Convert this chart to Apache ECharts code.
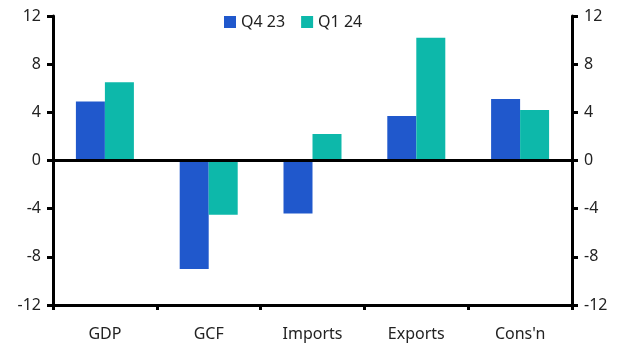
<!DOCTYPE html>
<html>
<head>
<meta charset="utf-8">
<script src="https://cdn.jsdelivr.net/npm/echarts@6/dist/echarts.min.js"></script>
<style>
  html, body { margin: 0; padding: 0; background: #fff; }
  #chart { width: 633px; height: 352px; }
</style>
</head>
<body>
<div id="chart"></div>
<script>
// data
const categories = ['GDP', 'GCF', 'Imports', 'Exports', "Cons'n"];
const q4_23 = [4.9, -9.0, -4.4, 3.7, 5.1];
const q1_24 = [6.5, -4.5, 2.2, 10.2, 4.2];
const seriesNames = ['Q4 23', 'Q1 24'];

const font = '"Noto Sans", sans-serif';

function valueAxis(pos) {
  return {
    type: 'value',
    position: pos,
    min: -12,
    max: 12,
    interval: 4,
    axisLine: { show: true, lineStyle: { color: '#000', width: 3 } },
    axisTick: { show: true, inside: false, length: 6, lineStyle: { color: '#000', width: 3 } },
    axisLabel: { color: '#222', fontSize: 16, fontFamily: font, margin: 12 },
    splitLine: { show: false }
  };
}

const chart = echarts.init(document.getElementById('chart'));
chart.setOption({
  animation: false,
  textStyle: { fontFamily: font },
  legend: {
    top: 9,
    left: 219,
    itemWidth: 12,
    itemHeight: 12,
    itemGap: 16,
    icon: 'rect',
    textStyle: { fontSize: 16, color: '#222', fontFamily: font },
    data: seriesNames
  },
  grid: { left: 53, right: 61, top: 16, bottom: 47 },
  xAxis: {
    type: 'category',
    data: categories,
    axisLine: { onZero: false, lineStyle: { color: '#000', width: 3 } },
    axisTick: { show: true, length: 5, lineStyle: { color: '#000', width: 3 } },
    axisLabel: { color: '#222', fontSize: 16, fontFamily: font, margin: 21 }
  },
  yAxis: [valueAxis('left'), valueAxis('right')],
  series: [
    {
      name: seriesNames[0],
      type: 'bar',
      data: q4_23,
      barWidth: 29,
      barGap: '0%',
      itemStyle: { color: '#2058cc' },
      markLine: {
        silent: true,
        symbol: 'none',
        label: { show: false },
        lineStyle: { color: '#000', width: 3, type: 'solid' },
        data: [{ yAxis: 0 }],
        z: 10
      }
    },
    {
      name: seriesNames[1],
      type: 'bar',
      data: q1_24,
      barWidth: 29,
      barGap: '0%',
      itemStyle: { color: '#0db8aa' }
    }
  ]
});
</script>
</body>
</html>
